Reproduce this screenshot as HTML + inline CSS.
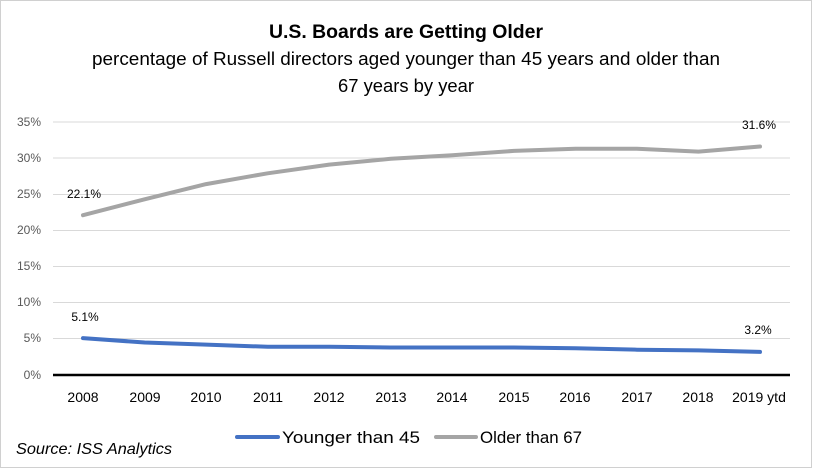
<!DOCTYPE html>
<html><head><meta charset="utf-8"><style>
body{margin:0;background:#fff;}
svg text{font-family:"Liberation Sans",Calibri,sans-serif;}
</style></head><body>
<svg width="813" height="469" viewBox="0 0 813 469" xmlns="http://www.w3.org/2000/svg">
<rect x="0.5" y="0.5" width="811" height="467" fill="#fff" stroke="#d0d0d0"/>
<text x="269" y="38" font-size="19" font-weight="bold" fill="#000" textLength="274" lengthAdjust="spacingAndGlyphs">U.S. Boards are Getting Older</text>
<text x="92" y="65" font-size="18" fill="#000" textLength="628" lengthAdjust="spacingAndGlyphs">percentage of Russell directors aged younger than 45 years and older than</text>
<text x="338" y="92" font-size="18" fill="#000" textLength="136" lengthAdjust="spacingAndGlyphs">67 years by year</text>
<g stroke="#d9d9d9" stroke-width="1">
<line x1="53" x2="790" y1="122" y2="122"/><line x1="53" x2="790" y1="158" y2="158"/>
<line x1="53" x2="790" y1="194.5" y2="194.5"/><line x1="53" x2="790" y1="230.5" y2="230.5"/>
<line x1="53" x2="790" y1="266.5" y2="266.5"/><line x1="53" x2="790" y1="302.5" y2="302.5"/>
<line x1="53" x2="790" y1="338.5" y2="338.5"/>
</g>
<line x1="53" x2="790" y1="375" y2="375" stroke="#000" stroke-width="2.5"/>
<g font-size="12" fill="#595959" text-anchor="end">
<text x="41" y="126">35%</text><text x="41" y="162">30%</text><text x="41" y="198">25%</text>
<text x="41" y="234">20%</text><text x="41" y="270">15%</text><text x="41" y="306">10%</text>
<text x="41" y="342">5%</text><text x="41" y="379">0%</text>
</g>
<g font-size="14" fill="#000" text-anchor="middle">
<text x="83" y="402">2008</text><text x="145" y="402">2009</text><text x="206" y="402">2010</text>
<text x="268" y="402">2011</text><text x="329" y="402">2012</text><text x="391" y="402">2013</text>
<text x="452" y="402">2014</text><text x="514" y="402">2015</text><text x="575" y="402">2016</text>
<text x="637" y="402">2017</text><text x="698" y="402">2018</text><text x="759" y="402">2019 ytd</text>
</g>
<polyline fill="none" stroke="#a5a5a5" stroke-width="4" stroke-linecap="round" stroke-linejoin="round"
points="83,215.2 144.6,199.3 206.1,184.1 267.7,173.3 329.2,164.6 390.8,158.8 452.3,155.2 513.9,150.9 575.4,148.7 637,148.7 698.5,151.6 760,146.5"/>
<polyline fill="none" stroke="#4472c4" stroke-width="4" stroke-linecap="round" stroke-linejoin="round"
points="83,338.1 144.6,342.5 206.1,344.6 267.7,346.8 329.2,346.8 390.8,347.5 452.3,347.5 513.9,347.5 575.4,348.2 637,349.7 698.5,350.4 760,351.9"/>
<g font-size="12" fill="#000" text-anchor="middle">
<text x="84" y="198">22.1%</text><text x="85" y="321">5.1%</text>
<text x="759" y="129">31.6%</text><text x="758" y="334">3.2%</text>
</g>
<text x="16" y="454" font-size="16" font-style="italic" fill="#000" textLength="156" lengthAdjust="spacingAndGlyphs">Source: ISS Analytics</text>
<line x1="237" x2="278" y1="437" y2="437" stroke="#4472c4" stroke-width="4" stroke-linecap="round"/>
<text x="282" y="443" font-size="17" fill="#000" textLength="138" lengthAdjust="spacingAndGlyphs">Younger than 45</text>
<line x1="436" x2="476" y1="437" y2="437" stroke="#a5a5a5" stroke-width="4" stroke-linecap="round"/>
<text x="480" y="443" font-size="17" fill="#000" textLength="102" lengthAdjust="spacingAndGlyphs">Older than 67</text>
</svg>
</body></html>
